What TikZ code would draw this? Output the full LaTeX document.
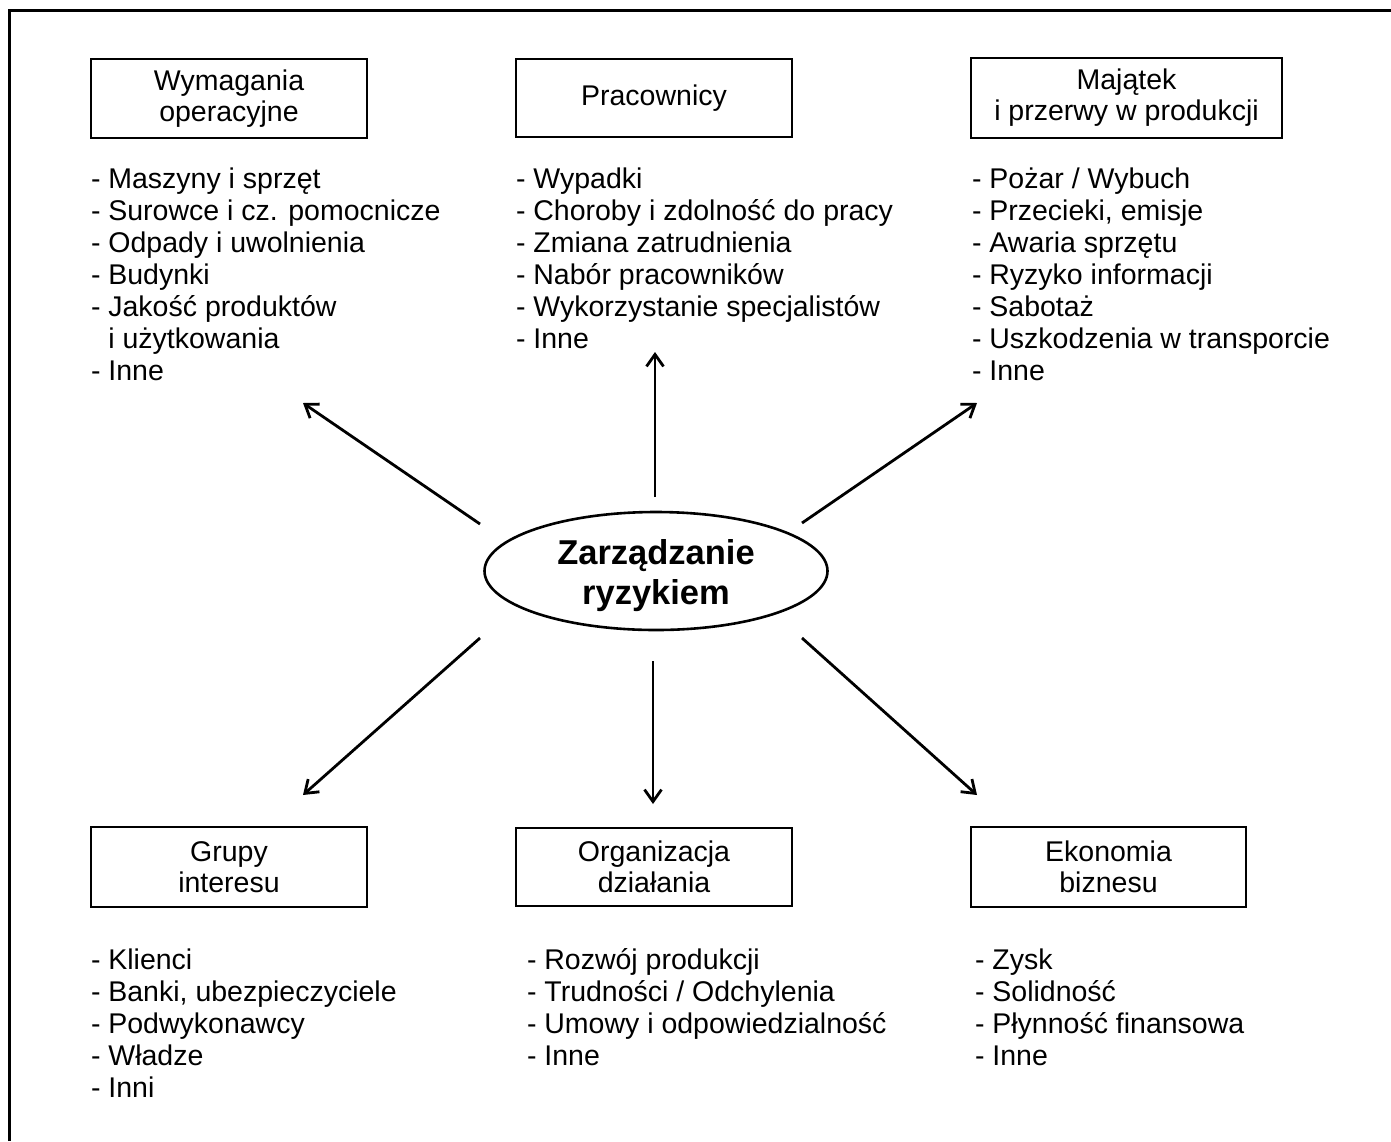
\documentclass[tikz,border=0pt]{standalone}
\usepackage{fontspec}
\setmainfont{Liberation Sans}
\usetikzlibrary{arrows.meta,shapes.geometric}
\tikzset{
  every node/.style={inner sep=0pt, outer sep=0pt},
  titlebox/.style={draw, line width=2.6pt, align=center, font=\fontsize{28.5}{31}\selectfont},
  item/.style={anchor=base west, font=\fontsize{28.5}{32}\selectfont},
  conn/.style={line width=2.8pt, -{Straight Barb[length=12pt,width=17pt,line width=2.8pt]}},
  frame/.style={line width=3pt}
}
\begin{document}
\begin{tikzpicture}[x=1pt,y=-1pt]
\useasboundingbox (0,0) rectangle (1391,1141);
\draw[frame] (9,1141) -- (9,10) -- (1391,10);

% boxes
\node[titlebox, minimum width=276pt, minimum height=79pt] (b1) at (229,98.5) {Wymagania\\operacyjne};
\node[titlebox, minimum width=276pt, minimum height=78pt] (b2) at (654,98) {Pracownicy};
\node[titlebox, minimum width=311pt, minimum height=80pt] (b3) at (1126.5,98) {Majątek\\i przerwy w produkcji};
\node[titlebox, minimum width=276pt, minimum height=80pt] (b4) at (229,867) {Grupy\\interesu};
\node[titlebox, minimum width=276pt, minimum height=78pt] (b5) at (654,867) {Organizacja\\działania};
\node[titlebox, minimum width=275pt, minimum height=80pt] (b6) at (1108.5,867) {Ekonomia\\biznesu};

% centre
\node[draw, ellipse, line width=2.6pt, inner ysep=-8pt, minimum width=343pt, minimum height=118pt,
      font=\fontsize{34.5}{39}\selectfont\bfseries] (ell) at (656,571)
  {\begin{tabular}{@{}c@{}}\rule{0pt}{39.5pt}Zarządzanie\\[1pt]ryzykiem\end{tabular}};

% lists
\foreach \t [count=\i] in {{- Maszyny i sprzęt},{- Surowce i cz. pomocnicze},{- Odpady i uwolnienia},{- Budynki},{- Jakość produktów},{\hphantom{- }i użytkowania},{- Inne}}
  \node[item] (c1-\i) at (91,{188+32*(\i-1)}) {\t};
\foreach \t [count=\i] in {{- Wypadki},{- Choroby i zdolność do pracy},{- Zmiana zatrudnienia},{- Nabór pracowników},{- Wykorzystanie specjalistów},{- Inne}}
  \node[item] (c2-\i) at (516,{188+32*(\i-1)}) {\t};
\foreach \t [count=\i] in {{- Pożar / Wybuch},{- Przecieki, emisje},{- Awaria sprzętu},{- Ryzyko informacji},{- Sabotaż},{- Uszkodzenia w transporcie},{- Inne}}
  \node[item] (c3-\i) at (972,{188+32*(\i-1)}) {\t};
\foreach \t [count=\i] in {{- Klienci},{- Banki, ubezpieczyciele},{- Podwykonawcy},{- Władze},{- Inni}}
  \node[item] (c4-\i) at (91,{969+32*(\i-1)}) {\t};
\foreach \t [count=\i] in {{- Rozwój produkcji},{- Trudności / Odchylenia},{- Umowy i odpowiedzialność},{- Inne}}
  \node[item] (c5-\i) at (527,{969+32*(\i-1)}) {\t};
\foreach \t [count=\i] in {{- Zysk},{- Solidność},{- Płynność finansowa},{- Inne}}
  \node[item] (c6-\i) at (975,{969+32*(\i-1)}) {\t};

% arrow end points
\coordinate (s1) at (480,524); \coordinate (e1) at (303,403);
\coordinate (s2) at (655,497); \coordinate (e2) at (655,352);
\coordinate (s3) at (802,523); \coordinate (e3) at (977,403);
\coordinate (s4) at (480,638); \coordinate (e4) at (303,795);
\coordinate (s5) at (653,661); \coordinate (e5) at (653,804);
\coordinate (s6) at (802,638); \coordinate (e6) at (977,795);
\foreach \k in {1,...,6} \draw[conn] (s\k) -- (e\k);
\end{tikzpicture}
\end{document}
